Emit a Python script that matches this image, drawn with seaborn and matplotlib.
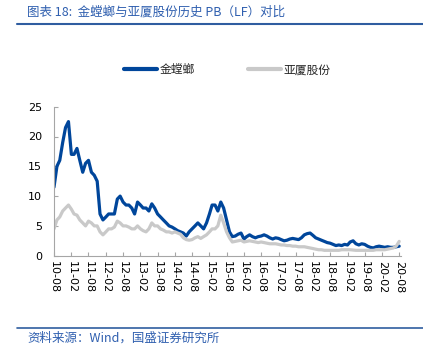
import numpy as np
import pandas as pd
import matplotlib
matplotlib.use('Agg')
import matplotlib.pyplot as plt
import matplotlib.dates as mdates
import seaborn as sns

# PB(LF) mensile, 2010-08 .. 2020-08
months = pd.date_range('2010-08-01', '2020-08-01', freq='MS')

pb_jtl = [
    11.5, 15.0, 16.0, 19.0, 21.5, 22.5, 17.0, 17.0, 18.0, 16.0, 14.0, 15.5,
    16.0, 14.0, 13.5, 12.5, 7.0, 6.0, 6.5, 7.0, 7.0, 7.0, 9.5, 10.0,
    9.0, 8.5, 8.5, 8.0, 7.0, 9.0, 8.5, 8.0, 8.0, 7.5, 8.7, 8.0,
    7.0, 6.5, 6.0, 5.5, 5.0, 4.8, 4.5, 4.2, 4.0, 3.8, 3.3, 4.0,
    4.5, 5.0, 5.5, 5.0, 4.5, 5.5, 7.0, 8.5, 8.5, 7.5, 9.0, 8.0,
    6.0, 4.0, 3.2, 3.3, 3.6, 3.8, 2.8, 3.2, 3.5, 3.2, 3.0, 3.2,
    3.3, 3.5, 3.3, 3.0, 2.8, 3.0, 2.9, 2.7, 2.5, 2.6, 2.8, 2.9,
    2.8, 2.7, 3.0, 3.5, 3.7, 3.8, 3.4, 3.0, 2.8, 2.6, 2.4, 2.2,
    2.1, 1.9, 1.7, 1.8, 1.7, 1.9, 1.8, 2.3, 2.5, 2.0, 1.8, 2.0,
    1.9, 1.6, 1.4, 1.3, 1.5, 1.6, 1.5, 1.4, 1.5, 1.4, 1.4, 1.5,
    1.6,
]

pb_yx = [
    4.5, 6.0, 6.5, 7.5, 8.0, 8.5, 7.8, 7.0, 6.8, 6.0, 5.5, 5.0,
    5.8, 5.5, 5.0, 5.0, 4.0, 3.5, 4.0, 4.5, 4.5, 4.8, 5.8, 5.5,
    5.0, 5.0, 4.8, 4.5, 4.5, 5.0, 4.5, 4.2, 4.0, 4.5, 5.5, 5.0,
    5.0, 4.5, 4.3, 4.0, 4.0, 3.8, 4.0, 3.8, 3.6, 3.0, 2.7, 2.6,
    2.7, 3.0, 3.2, 2.9, 3.2, 3.5, 4.0, 4.5, 4.5, 5.0, 6.8, 5.5,
    4.0, 3.0, 2.3, 2.4, 2.5, 2.6, 2.3, 2.4, 2.5, 2.4, 2.3, 2.2,
    2.3, 2.2, 2.1, 2.0, 2.0, 2.0, 1.9, 1.8, 1.8, 1.7, 1.7, 1.6,
    1.6, 1.5, 1.5, 1.5, 1.4, 1.3, 1.2, 1.1, 1.0, 1.0, 0.9, 0.9,
    0.9, 0.9, 0.9, 0.9, 1.0, 1.0, 1.0, 1.0, 0.95, 0.9, 0.9, 0.9,
    0.9, 0.9, 0.9, 0.9, 1.0, 1.0, 1.0, 1.0, 1.1, 1.2, 1.3, 1.6,
    2.4,
]

names = ['金螳螂', '亚厦股份']
colors = ['#00469B', '#C9C9C9']
yticks = [0, 5, 10, 15, 20, 25]

df = pd.DataFrame({'data': months, names[0]: pb_jtl, names[1]: pb_yx})

sns.set_style('white')
plt.rcParams['font.family'] = ['DejaVu Sans', 'Noto Sans CJK SC']
cjk = ['Noto Sans CJK SC', 'DejaVu Sans']

fig = plt.figure(figsize=(4.23, 3.53), dpi=100)
ax = fig.add_axes([54 / 423, 1 - 255.7 / 353, 347 / 423, 149 / 353])

for nome, col in zip(names, colors):
    sns.lineplot(data=df, x='data', y=nome, ax=ax, color=col, lw=2.3, label=nome)

ax.set_xlim(pd.Timestamp('2010-08-01'), pd.Timestamp('2020-08-20'))
ax.set_ylim(0, 25)
ax.set_yticks(yticks)
ax.xaxis.set_major_locator(mdates.MonthLocator(bymonth=[2, 8]))
ax.xaxis.set_major_formatter(mdates.DateFormatter('%y-%m'))
ax.set_xlabel('')
ax.set_ylabel('')

for s in ['top', 'right']:
    ax.spines[s].set_visible(False)
for s in ['left', 'bottom']:
    ax.spines[s].set_color('#A6A6A6')
    ax.spines[s].set_linewidth(0.8)

ax.tick_params(axis='y', direction='in', length=3, width=0.8, color='#A6A6A6',
               labelsize=8, pad=8.5, labelcolor='black', left=True)
ax.tick_params(axis='x', direction='in', length=3, width=0.8, color='#A6A6A6',
               labelsize=8, pad=4, labelcolor='black', bottom=True, labelrotation=270)

leg = ax.legend(loc='center', bbox_to_anchor=(0.5, 1 + (255.7 - 70) / 149 - 1), ncol=2,
                frameon=False, prop={'family': cjk, 'size': 8.5},
                handlelength=2.8, columnspacing=4.5, handletextpad=0.2)
for line in leg.get_lines():
    line.set_linewidth(3)

# intestazione e piè di pagina
fig.text(27 / 423, 1 - 12 / 353, '图表 18:  金螳螂与亚厦股份历史 PB（LF）对比',
         family=cjk, style='italic', fontsize=9, color='#2F5FAF', va='center', ha='left')
fig.add_artist(plt.Line2D([17 / 423, 1], [1 - 24 / 353] * 2, color='#2F5DA0', lw=1.5))
fig.add_artist(plt.Line2D([17 / 423, 1], [1 - 328 / 353] * 2, color='#2F5DA0', lw=1.2))
fig.text(27 / 423, 1 - 338 / 353, '资料来源：Wind，国盛证券研究所',
         family=cjk, style='italic', fontsize=9, color='#2F5FAF', va='center', ha='left')

fig.savefig('out.png', dpi=100)
